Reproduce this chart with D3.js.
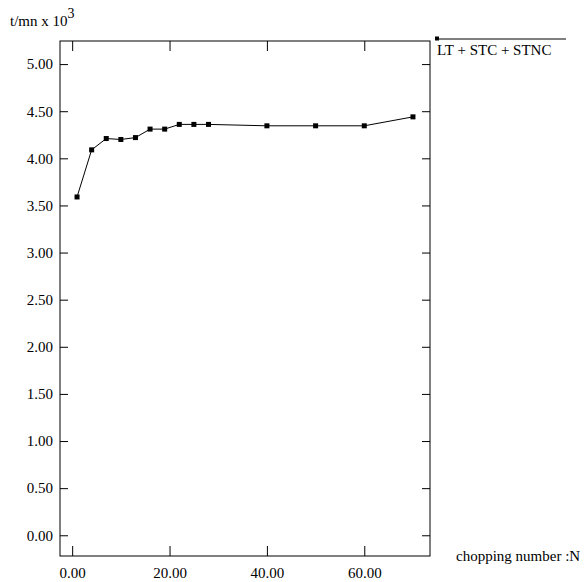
<!DOCTYPE html>
<html>
<head>
<meta charset="utf-8">
<script src="https://cdn.jsdelivr.net/npm/d3@7"></script>
<style>
  body { margin: 0; background: #fff; }
</style>
</head>
<body>
<svg id="chart"></svg>
<script>
// chopping number N vs t/mn x 10^3
const chopping = [1, 4, 7, 10, 13, 16, 19, 22, 25, 28, 40, 50, 60, 70];
const rate = [3.59, 4.09, 4.21, 4.20, 4.22, 4.31, 4.31, 4.36, 4.36, 4.36, 4.345, 4.345, 4.345, 4.44];
const xTicks = [0, 20, 40, 60];
const yTicks = [0, 0.5, 1, 1.5, 2, 2.5, 3, 3.5, 4, 4.5, 5];
const seriesName = 'LT + STC + STNC';

const FONT = '"Liberation Serif", "DejaVu Serif", serif';

const config = {
    width: 587,
    height: 582,
    margin: {top: 41, right: 157, bottom: 26, left: 60}
};

const innerW = config.width - config.margin.left - config.margin.right;
const innerH = config.height - config.margin.top - config.margin.bottom;

const svg = d3.select('#chart')
    .attr('width', config.width)
    .attr('height', config.height)
    .attr('font-family', FONT)
    .attr('font-size', 15);

const chart = svg.append('g')
    .attr('transform', `translate(${config.margin.left},${config.margin.top})`);

const xScale = d3.scaleLinear()
    .domain([-2.5, 73.5])
    .range([0, innerW]);

const yScale = d3.scaleLinear()
    .domain([-0.22, 5.245])
    .range([innerH, 0]);

const fmt = d3.format('.2f');

// frame
chart.append('rect')
    .attr('width', innerW)
    .attr('height', innerH)
    .attr('fill', 'none')
    .attr('stroke', '#000')
    .attr('stroke-width', 1);

// axes, ticks pointing inward
chart.append('g')
    .attr('transform', `translate(0,${innerH})`)
    .call(d3.axisBottom(xScale).tickValues(xTicks).tickFormat(fmt).tickSizeInner(-10).tickPadding(11));

chart.append('g')
    .call(d3.axisTop(xScale).tickValues(xTicks).tickFormat('').tickSizeInner(-10));

chart.append('g')
    .call(d3.axisLeft(yScale).tickValues(yTicks).tickFormat(fmt).tickSizeInner(-8).tickPadding(7));

chart.append('g')
    .attr('transform', `translate(${innerW},0)`)
    .call(d3.axisRight(yScale).tickValues(yTicks).tickFormat('').tickSizeInner(-8));

chart.selectAll('.domain').remove();
chart.selectAll('.tick line').attr('stroke', '#000');
chart.selectAll('g')
    .attr('font-size', null)
    .attr('font-family', null);
chart.selectAll('.tick text').attr('fill', '#000');

// line + markers
const pts = chopping.map((n, i) => ({n: n, v: rate[i]}));

chart.append('path')
    .datum(pts)
    .attr('fill', 'none')
    .attr('stroke', '#000')
    .attr('stroke-width', 1)
    .attr('d', d3.line()
        .x(d => xScale(d.n))
        .y(d => yScale(d.v)));

chart.selectAll('.dot')
    .data(pts)
    .join('rect')
    .attr('class', 'dot')
    .attr('x', d => xScale(d.n) - 2.5)
    .attr('y', d => yScale(d.v) - 2.5)
    .attr('width', 5)
    .attr('height', 5)
    .attr('fill', '#000');

// legend
const legend = svg.append('g')
    .attr('transform', 'translate(437,39)');

legend.append('line')
    .attr('x1', 0).attr('x2', 129)
    .attr('y1', 0).attr('y2', 0)
    .attr('stroke', '#000');

legend.append('rect')
    .attr('x', -2).attr('y', -2.5)
    .attr('width', 4).attr('height', 4)
    .attr('fill', '#000');

legend.append('text')
    .attr('x', 0)
    .attr('y', 16)
    .text(seriesName);

// axis titles
const yTitle = svg.append('text')
    .attr('x', 10)
    .attr('y', 26)
    .text('t/mn x 10');
yTitle.append('tspan')
    .attr('dy', -8)
    .attr('font-size', 14)
    .text('3');

svg.append('text')
    .attr('x', 456)
    .attr('y', 561)
    .text('chopping number :N');
</script>
</body>
</html>
